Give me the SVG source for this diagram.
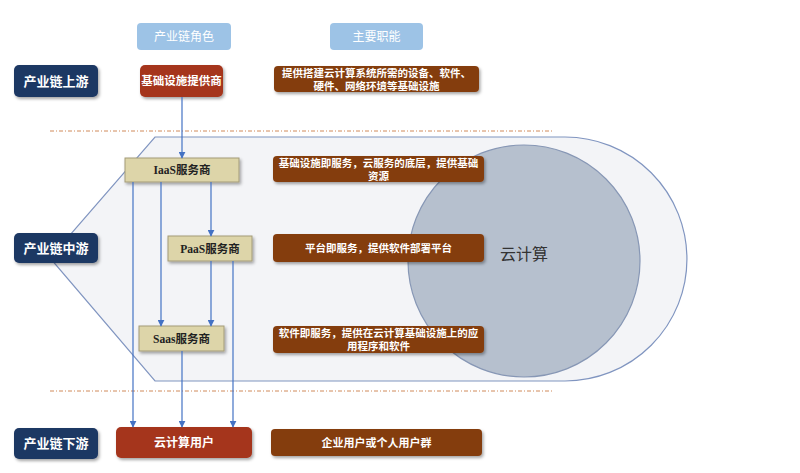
<svg xmlns="http://www.w3.org/2000/svg" width="800" height="473" viewBox="0 0 800 473">
<style>
text{font-family:"Liberation Serif","Noto Sans CJK SC",serif;text-anchor:middle;dominant-baseline:central}
.nav{fill:#1f3864}
.navt{fill:#fff;font-size:13px;font-weight:bold}
.hdr{fill:#9dc3e6}
.hdrt{fill:#fff;font-size:12px}
.red{fill:#a5361f}
.redt{fill:#fff;font-size:12px;font-weight:bold}
.brn{fill:#843c0c}
.brnt{fill:#fff;font-size:10.5px;font-weight:bold}
.tan{fill:#ddd5a9;stroke:#a39b78;stroke-width:1}
.tant{fill:#222;font-size:11.5px;font-weight:bold}
.con{stroke:#4472c4;stroke-width:1.2;fill:none;marker-end:url(#ah)}
.dash{stroke:#d08a5a;stroke-width:1;stroke-dasharray:4 2 1 2;fill:none}
.sh{filter:url(#ds)}
</style>
<defs>
<marker id="ah" viewBox="0 0 10 10" refX="9" refY="5" markerWidth="7" markerHeight="7" orient="auto" markerUnits="userSpaceOnUse">
<path d="M0,0 L10,5 L0,10 z" fill="#4472c4"/>
</marker>
<filter id="ds" x="-10%" y="-20%" width="130%" height="160%">
<feDropShadow dx="1.5" dy="2" stdDeviation="1.5" flood-color="#000" flood-opacity="0.35"/>
</filter>
</defs>

<g id="background">
<line class="dash" x1="50" y1="131" x2="553" y2="131"/>
<line class="dash" x1="50" y1="391" x2="553" y2="391"/>
<path d="M155,137 L565,137 A122,122 0 0 1 565,381 L155,381 L50,258 Z" fill="#f3f4f7" stroke="#8095c0" stroke-width="1.2"/>
</g>

<g id="cloud">
<circle cx="524" cy="261" r="116" fill="#b6c0ce" stroke="#8797b5" stroke-width="1.2"/>
<text x="524" y="253" style="font-family:'Noto Sans CJK SC',sans-serif;font-size:16px;fill:#333">云计算</text>
</g>

<g id="header-role">
<rect class="hdr" x="137" y="23" width="94" height="27" rx="4"/>
<text class="hdrt" x="184" y="36.5">产业链角色</text>
</g>
<g id="header-func">
<rect class="hdr" x="330" y="23" width="93" height="27" rx="4"/>
<text class="hdrt" x="376.5" y="36.5">主要职能</text>
</g>

<g id="upstream">
<rect class="nav sh" x="14" y="65" width="84" height="32" rx="5"/>
<text class="navt" x="56" y="81">产业链上游</text>
</g>
<g id="midstream">
<rect class="nav sh" x="14" y="233" width="84" height="30" rx="5"/>
<text class="navt" x="56" y="248">产业链中游</text>
</g>
<g id="downstream">
<rect class="nav sh" x="14" y="428" width="84" height="31" rx="5"/>
<text class="navt" x="56" y="443.5">产业链下游</text>
</g>

<g id="infra-provider">
<rect class="red sh" x="140" y="65" width="83" height="32" rx="5"/>
<text class="redt" x="181.5" y="81" style="font-size:11.5px">基础设施提供商</text>
</g>
<g id="iaas">
<rect class="tan sh" x="125" y="158" width="114" height="24"/>
<text class="tant" x="182" y="170">IaaS服务商</text>
</g>
<g id="paas">
<rect class="tan sh" x="168" y="236" width="84" height="25"/>
<text class="tant" x="210" y="248.5">PaaS服务商</text>
</g>
<g id="saas">
<rect class="tan sh" x="139" y="326" width="85" height="25"/>
<text class="tant" x="181.5" y="338.5">Saas服务商</text>
</g>
<g id="cloud-user">
<rect class="red sh" x="116" y="427" width="136" height="31" rx="5"/>
<text class="redt" x="184" y="442.5">云计算用户</text>
</g>

<g id="func-infra">
<rect class="brn sh" x="274" y="66" width="205" height="26" rx="4"/>
<text class="brnt" x="376.5" y="73">提供搭建云计算系统所需的设备、软件、</text>
<text class="brnt" x="376.5" y="86">硬件、网络环境等基础设施</text>
</g>
<g id="func-iaas">
<rect class="brn sh" x="273" y="156" width="211" height="26" rx="4"/>
<text class="brnt" x="378.5" y="163.5">基础设施即服务，云服务的底层，提供基础</text>
<text class="brnt" x="378.5" y="176">资源</text>
</g>
<g id="func-paas">
<rect class="brn sh" x="273" y="234" width="211" height="28" rx="4"/>
<text class="brnt" x="378.5" y="248">平台即服务，提供软件部署平台</text>
</g>
<g id="func-saas">
<rect class="brn sh" x="273" y="326" width="211" height="27" rx="4"/>
<text class="brnt" x="378.5" y="333.5">软件即服务，提供在云计算基础设施上的应</text>
<text class="brnt" x="378.5" y="346.5">用程序和软件</text>
</g>
<g id="func-user">
<rect class="brn sh" x="271" y="429" width="211" height="27" rx="4"/>
<text class="brnt" x="376.5" y="442.5" style="font-size:11px">企业用户或个人用户群</text>
</g>

<g id="connectors">
<path class="con" d="M182,97 L182,158"/>
<path class="con" d="M133,182 L133,427"/>
<path class="con" d="M161,182 L161,326"/>
<path class="con" d="M211,182 L211,236"/>
<path class="con" d="M211,261 L211,326"/>
<path class="con" d="M233,261 L233,427"/>
<path class="con" d="M182,351 L182,427"/>
</g>
</svg>
